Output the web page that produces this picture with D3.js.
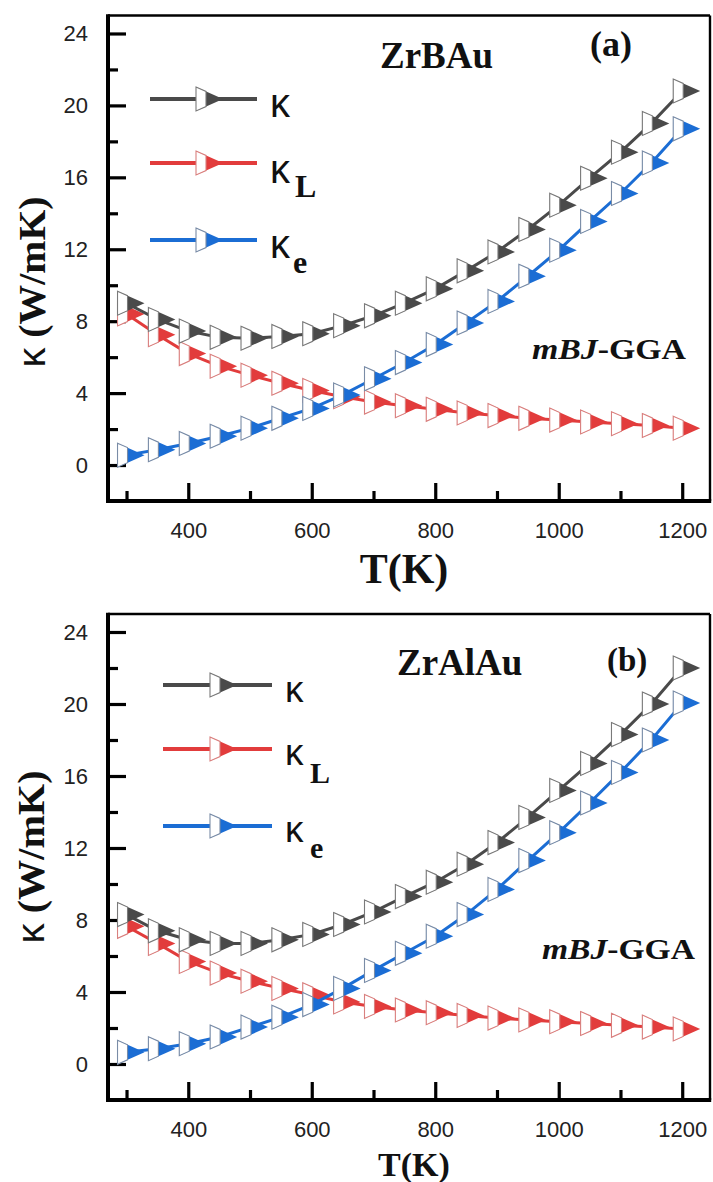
<!DOCTYPE html>
<html><head><meta charset="utf-8">
<script src="https://cdn.jsdelivr.net/npm/d3@7"></script>
<style>body{margin:0;background:#fff} svg{display:block}</style>
</head><body>
<script>
// ---- data ----
const temps = [300,350,400,450,500,550,600,650,700,750,800,850,900,950,1000,1050,1100,1150,1200];
// (a) ZrBAu
const kappaA  = [9.0,8.1,7.45,7.1,7.05,7.15,7.3,7.75,8.3,9.0,9.8,10.8,11.85,13.1,14.45,15.95,17.4,19.0,20.8];
const kappaLA = [8.4,7.25,6.2,5.5,5.0,4.55,4.15,3.8,3.5,3.3,3.1,2.9,2.75,2.6,2.5,2.4,2.3,2.2,2.05];
const kappaEA = [0.55,0.85,1.2,1.6,2.05,2.6,3.15,3.9,4.8,5.7,6.7,7.9,9.1,10.5,11.95,13.55,15.1,16.8,18.7];
// (b) ZrAlAu
const kappaB  = [8.3,7.4,6.9,6.7,6.7,6.9,7.2,7.75,8.45,9.3,10.1,11.1,12.3,13.7,15.2,16.7,18.3,20.0,22.0];
const kappaLB = [7.65,6.7,5.7,5.05,4.6,4.2,3.85,3.45,3.2,3.0,2.85,2.7,2.55,2.45,2.35,2.25,2.15,2.05,1.95];
const kappaEB = [0.65,0.85,1.13,1.5,2.05,2.6,3.3,4.2,5.2,6.15,7.1,8.3,9.7,11.3,12.85,14.5,16.2,18.0,20.05];

const xTicks = [400,600,800,1000,1200];
const xMinor = [300,500,700,900,1100];
const yTicks = [0,4,8,12,16,20,24];
const yMinor = [2,6,10,14,18,22];
const seriesKeys = ["k","kL","ke"];
const legendSubs = ["", "L", "e"];
const compounds = ["ZrBAu","ZrAlAu"];
const tags = ["(a)","(b)"];
const methodLabel = ["mBJ","-GGA"];
const xTitle = "T(K)";

// ---- style ----
const colors = {k:"#4a4a4a", kL:"#e23c3c", ke:"#1b6dd4"};
const edge = {k:"#7a7a7a", kL:"#d9807f", ke:"#7a8ca6"};
const W = 713, H = 1182;
const svg = d3.select("body").append("svg").attr("width",W).attr("height",H);

const panels = [
  {top:15.5, bottom:501, data:{k:kappaA,kL:kappaLA,ke:kappaEA}, comp:{x:380,y:68,s:37}, tag:{x:590,y:56,s:36},
   mbj:{x:532,y:359,len:154}, xt:{x:404,y:583,s:42}, yt:{x:33,y:282,len:171},
   leg:{x1:150,x2:257,mx:205,ys:[99,163,240],tx:270,tys:[117,183,258],ks:40,subs:[[295,197],[293,273]],ss:32}, pad:21},
  {top:614, bottom:1100, data:{k:kappaB,kL:kappaLB,ke:kappaEB}, comp:{x:397,y:675,s:37}, tag:{x:607,y:671,s:33},
   mbj:{x:542,y:959,len:153}, xt:{x:414,y:1176,s:34}, yt:{x:32,y:857,len:173},
   leg:{x1:163,x2:272,mx:219,ys:[685,749,826],tx:285,tys:[702,765,842],ks:37,subs:[[310,783],[310,858]],ss:30}, pad:21}
];
const left = 108, right = 710;

const triPath = "M-9,-12L18,0L-9,12Z";
const whitePath = "M-9,-12L1,-7.56L1,7.56L-9,12Z";
function marker(g, key, x, y){
  const m = g.append("g").attr("transform",`translate(${x},${y})`);
  m.append("path").attr("d",triPath).attr("fill",colors[key]);
  m.append("path").attr("d",whitePath).attr("fill","#fff").attr("stroke",edge[key]).attr("stroke-width",1.1);
}

panels.forEach((p,pi)=>{
  const x = d3.scaleLinear().domain([270,1245]).range([left,right]);
  const y = d3.scaleLinear().domain([-2,25]).range([p.bottom,p.top]);
  const g = svg.append("g");

  // axes (inward ticks)
  const xa = g.append("g").attr("transform",`translate(0,${p.bottom})`)
    .call(d3.axisBottom(x).tickValues(xTicks).tickSize(-18).tickPadding(p.pad).tickFormat(d3.format("d")));
  const xm = g.append("g").attr("transform",`translate(0,${p.bottom})`)
    .call(d3.axisBottom(x).tickValues(xMinor).tickSize(-10).tickFormat(""));
  const ya = g.append("g").attr("transform",`translate(${left},0)`)
    .call(d3.axisLeft(y).tickValues(yTicks).tickSize(-18).tickPadding(20).tickFormat(d3.format("d")));
  const ym = g.append("g").attr("transform",`translate(${left},0)`)
    .call(d3.axisLeft(y).tickValues(yMinor).tickSize(-10).tickFormat(""));
  [xa,xm,ya,ym].forEach(a=>{
    a.select(".domain").remove();
    a.selectAll(".tick line").attr("stroke","#000").attr("stroke-width",3.2);
    a.selectAll(".tick text").attr("font-family","Liberation Sans, Arial, sans-serif").attr("font-size",22).attr("fill","#222");
  });

  // frame
  g.append("line").attr("x1",left).attr("x2",right).attr("y1",p.top).attr("y2",p.top).attr("stroke","#000").attr("stroke-width",2.6);
  g.append("line").attr("x1",right).attr("x2",right).attr("y1",p.top).attr("y2",p.bottom).attr("stroke","#000").attr("stroke-width",2.4);
  g.append("line").attr("x1",left).attr("x2",left).attr("y1",p.top-1.3).attr("y2",p.bottom+2).attr("stroke","#000").attr("stroke-width",4);
  g.append("line").attr("x1",left-2).attr("x2",right+1.2).attr("y1",p.bottom).attr("y2",p.bottom).attr("stroke","#000").attr("stroke-width",4);

  // series
  const line = d3.line().x((d,i)=>x(temps[i])).y(d=>y(d));
  ["kL","ke","k"].forEach(key=>{
    const vals = p.data[key];
    g.append("path").datum(vals).attr("d",line).attr("fill","none")
      .attr("stroke",colors[key]).attr("stroke-width",3);
    vals.forEach((v,i)=>marker(g,key,x(temps[i]),y(v)));
  });

  // legend
  const L = p.leg;
  seriesKeys.forEach((key,i)=>{
    g.append("line").attr("x1",L.x1).attr("x2",L.x2).attr("y1",L.ys[i]).attr("y2",L.ys[i])
      .attr("stroke",colors[key]).attr("stroke-width",4);
    marker(g,key,L.mx,L.ys[i]);
    g.append("text").attr("x",L.tx).attr("y",L.tys[i]).attr("font-family","Liberation Sans, Arial, sans-serif")
      .attr("font-size",L.ks).attr("fill","#111").text("κ");
    if(legendSubs[i]){
      g.append("text").attr("x",L.subs[i-1][0]).attr("y",L.subs[i-1][1])
        .attr("font-family","Liberation Serif, Times New Roman, serif").attr("font-weight","bold")
        .attr("font-size",L.ss).attr("fill","#111").text(legendSubs[i]);
    }
  });

  // annotations
  g.append("text").attr("x",p.comp.x).attr("y",p.comp.y).attr("font-family","Liberation Serif, Times New Roman, serif")
    .attr("font-weight","bold").attr("font-size",p.comp.s).attr("fill","#111").text(compounds[pi]);
  g.append("text").attr("x",p.tag.x).attr("y",p.tag.y).attr("font-family","Liberation Serif, Times New Roman, serif")
    .attr("font-weight","bold").attr("font-size",p.tag.s).attr("fill","#111").text(tags[pi]);
  const mt = g.append("text").attr("x",p.mbj.x).attr("y",p.mbj.y).attr("font-family","Liberation Serif, Times New Roman, serif")
    .attr("font-weight","bold").attr("font-size",30).attr("fill","#111")
    .attr("textLength",p.mbj.len).attr("lengthAdjust","spacingAndGlyphs");
  mt.append("tspan").attr("font-style","italic").text(methodLabel[0]);
  mt.append("tspan").text(methodLabel[1]);

  // axis titles
  g.append("text").attr("x",p.xt.x).attr("y",p.xt.y).attr("text-anchor","middle")
    .attr("font-family","Liberation Serif, Times New Roman, serif").attr("font-weight","bold")
    .attr("font-size",p.xt.s).attr("fill","#111").text(xTitle);
  const yt = g.append("text").attr("transform",`translate(${p.yt.x + 12},${p.yt.y}) rotate(-90)`)
    .attr("text-anchor","middle").attr("font-family","Liberation Serif, Times New Roman, serif")
    .attr("font-weight","bold").attr("font-size",38).attr("fill","#111")
    .attr("textLength",p.yt.len).attr("lengthAdjust","spacingAndGlyphs");
  yt.append("tspan").attr("font-family","Liberation Sans, Arial, sans-serif").attr("font-weight","normal").text("κ");
  yt.append("tspan").text(" (W/mK)");
});
</script>
</body></html>
